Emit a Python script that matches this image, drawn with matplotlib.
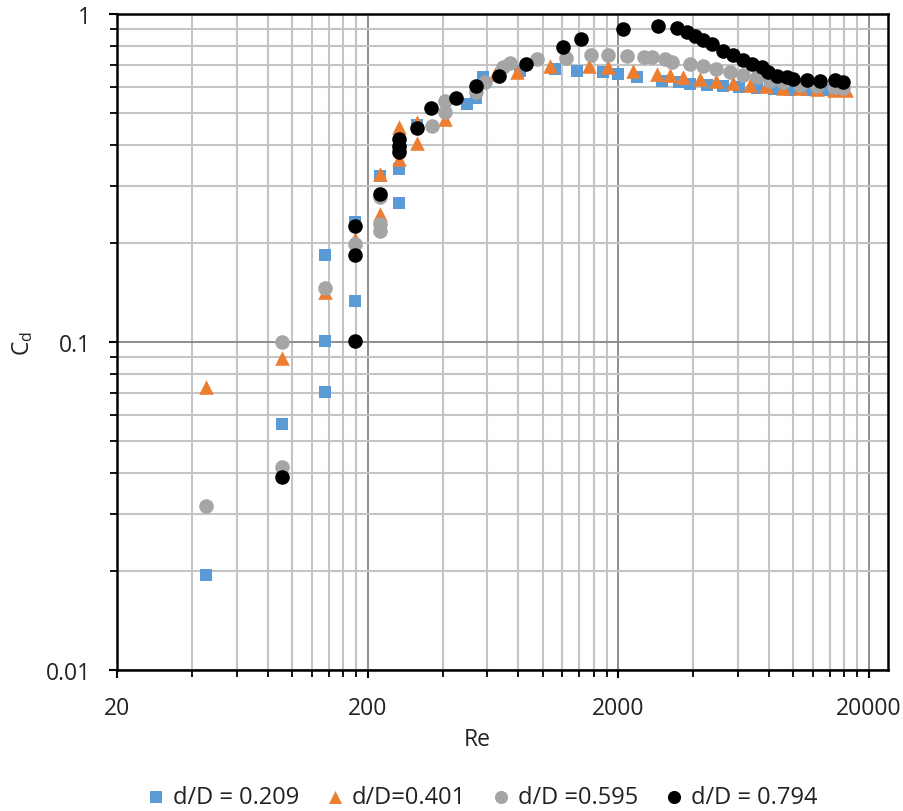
import numpy as np
import matplotlib
matplotlib.use("Agg")
import matplotlib.pyplot as plt
from matplotlib.ticker import FixedLocator, NullFormatter, LogLocator

plt.rcParams['font.family'] = ['Open Sans', 'DejaVu Sans']

# d/D = 0.209
re_b = [45.3, 90.9, 135.8, 135.8, 135.8, 178.8, 178.8, 224, 268, 268, 316, 498, 541, 580, 812,
        1120, 1368, 1740, 2006, 2380, 2981, 3516, 3877, 4508, 5270, 6100, 7150, 8350, 9750,
        11330, 13250, 15500]
cd_b = [0.0195, 0.0562, 0.0706, 0.1006, 0.184, 0.133, 0.232, 0.32, 0.265, 0.337, 0.46, 0.53,
        0.553, 0.641, 0.672, 0.68, 0.672, 0.664, 0.656, 0.641, 0.626, 0.619, 0.612, 0.608,
        0.602, 0.598, 0.594, 0.590, 0.588, 0.587, 0.585, 0.584]

# d/D = 0.401
re_o = [45.3, 90.9, 135.8, 178.8, 224, 224, 268, 268, 316, 316, 406, 645, 788, 1070, 1525,
        1829, 2298, 2848, 3236, 3648, 4247, 4940, 5770, 6700, 7820, 9130, 10680, 12450,
        14530, 16200]
cd_o = [0.0728, 0.0892, 0.142, 0.206, 0.325, 0.246, 0.451, 0.361, 0.470, 0.404, 0.478, 0.656,
        0.664, 0.696, 0.696, 0.688, 0.669, 0.656, 0.652, 0.641, 0.634, 0.626, 0.616, 0.608,
        0.602, 0.596, 0.594, 0.590, 0.588, 0.587]

# d/D = 0.595
re_g = [45.3, 90.9, 90.9, 135.8, 178.8, 224, 224, 224, 268, 361, 406, 406, 541, 589, 697, 741,
        947, 1242, 1565, 1829, 2166, 2530, 2730, 3080, 3275, 3877, 4378, 4940, 5580, 6325,
        7150, 8080, 9130, 10680, 12450, 14530, 15850]
cd_g = [0.0316, 0.100, 0.0415, 0.146, 0.199, 0.277, 0.229, 0.218, 0.39, 0.457, 0.544, 0.502,
        0.577, 0.619, 0.688, 0.707, 0.729, 0.733, 0.752, 0.752, 0.746, 0.741, 0.737, 0.729,
        0.712, 0.704, 0.696, 0.680, 0.667, 0.652, 0.641, 0.626, 0.619, 0.608, 0.602, 0.598,
        0.596]

# d/D = 0.794
re_k = [90.9, 178.8, 178.8, 178.8, 224, 268, 268, 268, 316, 358, 451, 541, 670, 855, 1210,
        1423, 2100, 2895, 3430, 3768, 4056, 4378, 4730, 5236, 5770, 6325, 6834, 7495, 7964,
        8607, 9430, 10024, 11330, 12800, 14700, 15850]
cd_k = [0.0387, 0.101, 0.184, 0.225, 0.283, 0.379, 0.397, 0.416, 0.448, 0.516, 0.553, 0.602,
        0.649, 0.704, 0.792, 0.839, 0.900, 0.921, 0.904, 0.88, 0.855, 0.835, 0.810, 0.773,
        0.750, 0.726, 0.704, 0.688, 0.667, 0.649, 0.641, 0.634, 0.629, 0.626, 0.629, 0.622]

x_ticks = [20, 200, 2000, 20000]
y_ticks = [0.01, 0.1, 1]
txt = '#222222'

fig = plt.figure(figsize=(9.04, 8.12), dpi=100)
ax = fig.add_axes([117/904, 1-671/812, (888-117)/904, (671-15)/812])

ax.scatter(re_b, cd_b, marker='s', s=80, color='#5B9BD5', label='d/D = 0.209', zorder=3, linewidths=0)
ax.scatter(re_o, cd_o, marker='^', s=110, color='#ED7D31', label='d/D=0.401', zorder=4, linewidths=0)
ax.scatter(re_g, cd_g, marker='o', s=110, color='#A5A5A5', label='d/D =0.595', zorder=5, linewidths=0)
ax.scatter(re_k, cd_k, marker='o', s=110, color='#000000', label='d/D = 0.794', zorder=6, linewidths=0)

ax.set_xscale('log')
ax.set_yscale('log')
ax.set_xlim(20, 23900)
ax.set_ylim(0.01, 1)

ax.xaxis.set_major_locator(FixedLocator(x_ticks))
ax.xaxis.set_minor_locator(FixedLocator([k * 20 * 10**n for n in range(3) for k in range(2, 10)]))
ax.xaxis.set_minor_formatter(NullFormatter())
ax.set_xticklabels([str(t) for t in x_ticks])
ax.yaxis.set_major_locator(FixedLocator(y_ticks))
ax.yaxis.set_minor_locator(LogLocator(base=10, subs=np.arange(2, 10)))
ax.yaxis.set_minor_formatter(NullFormatter())
ax.set_yticklabels(['0.01', '0.1', '1'])

ax.grid(which='minor', color='#C4C4C4', lw=1.5, zorder=0)
ax.grid(which='major', color='#868686', lw=1.3, zorder=1)
ax.set_axisbelow(True)

for sp in ax.spines.values():
    sp.set_linewidth(1.8)
    sp.set_color('black')

ax.tick_params(which='major', direction='out', length=6, width=1.5, labelsize=16.5,
               colors='black', labelcolor=txt)
ax.tick_params(axis='x', which='major', pad=13)
ax.tick_params(axis='y', which='major', pad=13)
ax.tick_params(which='minor', direction='out', length=5, width=1.3)

ax.set_xlabel('Re', fontsize=16.5, color=txt)
ax.xaxis.label.set_va('center')
ax.xaxis.set_label_coords(0.467, -0.105)
ax.set_ylabel('C$_\\mathregular{d}$', fontsize=16.5, color=txt)
ax.yaxis.label.set_va('center')
ax.yaxis.set_label_coords(-0.122, 0.5)

fig.legend(loc='center', bbox_to_anchor=(482/904, 1-798/812), ncol=4, frameon=False, fontsize=17,
           handlelength=0.8, handletextpad=0.32, columnspacing=1.1, markerscale=0.9,
           labelcolor=txt, borderpad=0, borderaxespad=0)

fig.savefig('out.png', dpi=100)
